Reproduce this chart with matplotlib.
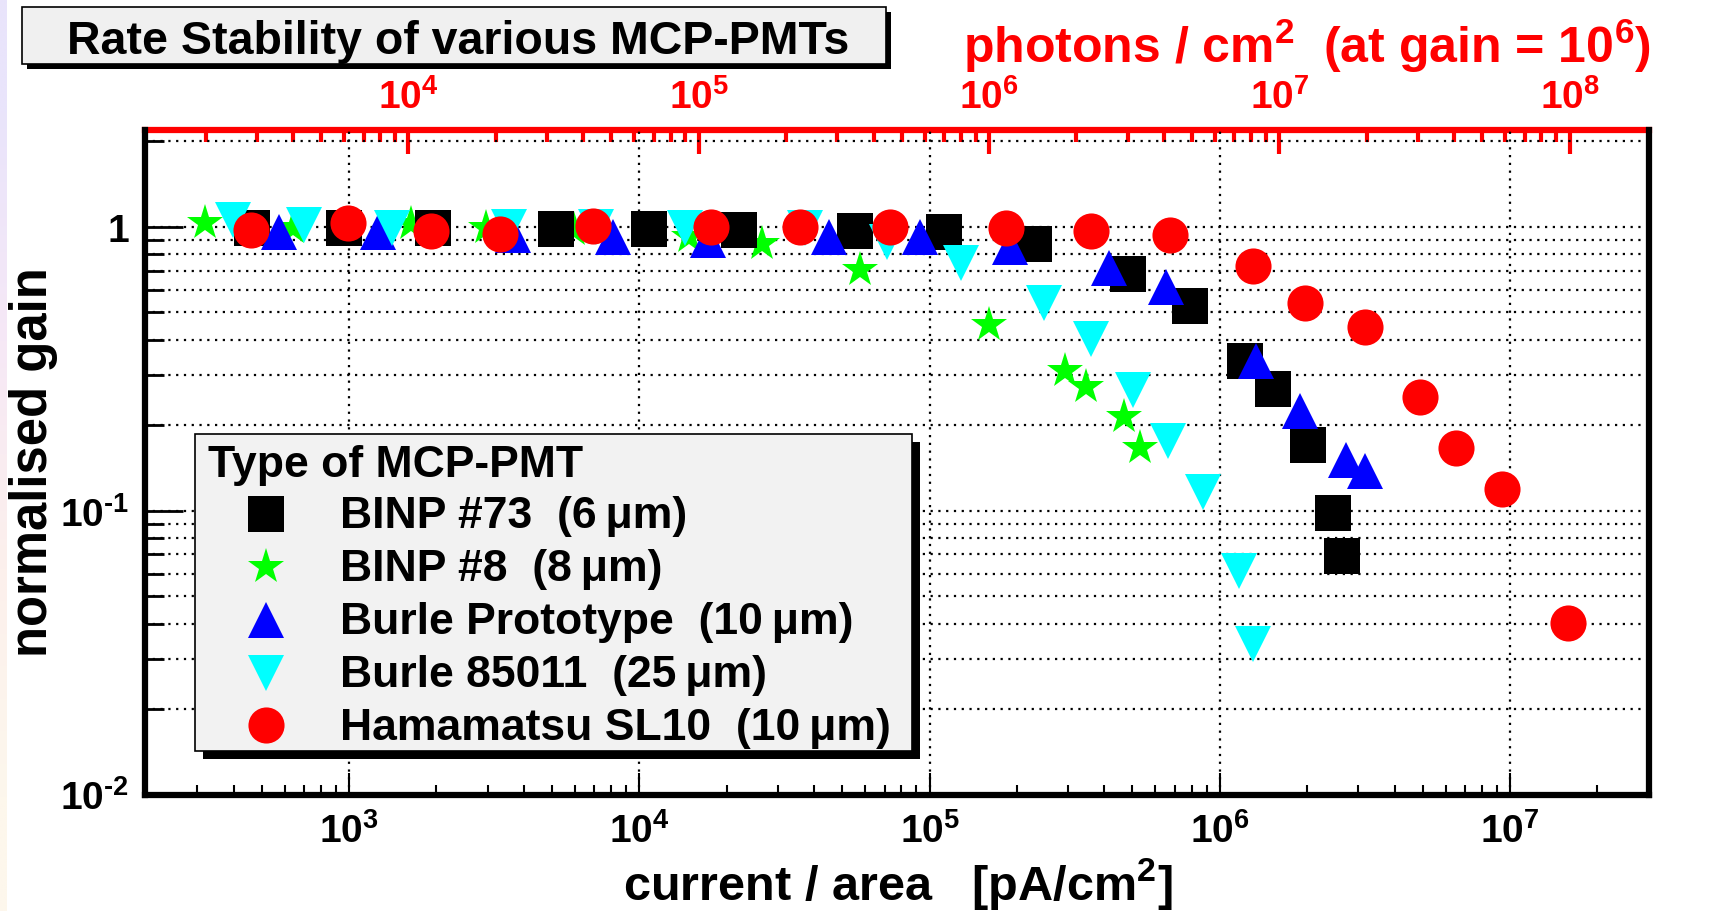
import matplotlib
matplotlib.use('Agg')
import matplotlib.pyplot as plt
import numpy as np
from matplotlib.patches import Rectangle
from matplotlib.lines import Line2D
from matplotlib.ticker import LogLocator, NullFormatter, FixedLocator

plt.rcParams['font.family'] = ['Liberation Sans', 'DejaVu Sans']
plt.rcParams['font.weight'] = 'bold'
plt.rcParams['mathtext.fontset'] = 'custom'
plt.rcParams['mathtext.rm'] = 'Liberation Sans:bold'
plt.rcParams['mathtext.it'] = 'Liberation Sans:bold'
plt.rcParams['mathtext.bf'] = 'Liberation Sans:bold'
plt.rcParams['mathtext.default'] = 'rm'

# current / area [pA/cm^2] and normalised gain
binp73_x = [462, 964, 1940, 5180, 10800, 22000, 55300, 112000, 229000, 484000,
            789000, 1.22e6, 1.53e6, 2.01e6, 2.45e6, 2.63e6]
binp73_y = [0.987, 0.99, 0.99, 0.981, 0.981, 0.973, 0.965, 0.96, 0.868, 0.681,
            0.523, 0.337, 0.267, 0.170, 0.098, 0.069]

binp8_x = [320, 640, 1640, 2970, 5970, 14800, 26500, 57800, 160000, 291700,
           345500, 466400, 532000]
binp8_y = [1.03, 0.99, 1.02, 0.99, 0.975, 0.92, 0.869, 0.704, 0.451, 0.309,
           0.273, 0.213, 0.166]

proto_x = [572, 1260, 3673, 8128, 17260, 45100, 92900, 190000, 415000, 653000,
           1.33e6, 1.89e6, 2.72e6, 3.16e6]
proto_y = [0.956, 0.957, 0.93, 0.915, 0.897, 0.917, 0.92, 0.846, 0.713, 0.610,
           0.337, 0.224, 0.151, 0.1376]

b85011_x = [398, 697, 1409, 3557, 7115, 14390, 37100, 71400, 128000, 248000,
            360600, 501000, 665000, 874000, 1.16e6, 1.30e6]
b85011_y = [1.05, 1.01, 0.99, 1.0, 1.0, 0.985, 0.99, 0.88, 0.741, 0.537,
            0.402, 0.266, 0.176, 0.116, 0.061, 0.034]

sl10_x = [458, 994, 1910, 3318, 6905, 17700, 35800, 72800, 182700, 360600,
          673000, 1.30e6, 1.96e6, 3.16e6, 4.91e6, 6.53e6, 9.4e6, 1.58e7]
sl10_y = [0.973, 1.03, 0.963, 0.941, 1.005, 1.0, 1.0, 1.0, 0.992, 0.968,
          0.935, 0.727, 0.540, 0.441, 0.25, 0.166, 0.119, 0.0401]

labels = ['BINP #73  (6\u2009\u03bcm)', 'BINP #8  (8\u2009\u03bcm)',
          'Burle Prototype  (10\u2009\u03bcm)', 'Burle 85011  (25\u2009\u03bcm)',
          'Hamamatsu SL10  (10\u2009\u03bcm)']

photons_per_pA = 6.24  # photons/cm^2 per pA/cm^2 at gain 1e6
top_major = [1e4, 1e5, 1e6, 1e7, 1e8]

W, H = 1726, 912
fig = plt.figure(figsize=(W / 100, H / 100), dpi=100)


def fx(px):
    return px / W


def fy(py):
    return 1 - py / H


ax = fig.add_axes([fx(144.5), fy(795.5), (1649 - 144.5) / W, (795.5 - 131) / H])
ax.set_xscale('log')
ax.set_yscale('log')
ax.set_xlim(197.4, 3.01e7)
ax.set_ylim(0.01, 2.187)

# markers: (x, y, marker, colour, size) -- draw order as in the original
series = [
    (binp8_x, binp8_y, '*', '#00ff00', 27.5),
    (binp73_x, binp73_y, 's', 'black', 26),
    (proto_x, proto_y, '^', '#0000ff', 26),
    (b85011_x, b85011_y, 'v', '#00ffff', 26),
    (sl10_x, sl10_y, 'o', '#ff0000', 26),
]
for x, y, m, c, s in series:
    ax.plot(x, y, ls='none', marker=m, color=c, ms=s, mew=0, zorder=3)

# axes ticks / grid
ax.xaxis.set_major_locator(LogLocator(base=10, numticks=20))
ax.xaxis.set_minor_locator(LogLocator(base=10, subs=np.arange(2, 10), numticks=20))
ax.xaxis.set_minor_formatter(NullFormatter())
ax.set_yticks([0.01, 0.1, 1], labels=[r'$10^{\text{-}2}$', r'$10^{\text{-}1}$', '1'])
ax.yaxis.set_minor_locator(LogLocator(base=10, subs=np.arange(2, 10), numticks=20))
ax.yaxis.set_minor_formatter(NullFormatter())

dots = (0, (1, 2.5))
ax.grid(True, axis='x', which='major', color='black', ls=dots, lw=1.6)
ax.grid(True, axis='y', which='both', color='black', ls=dots, lw=1.6)
ax.set_axisbelow(True)

ax.tick_params(axis='x', which='major', direction='in', length=15.8, width=1.5,
               top=False, labelsize=28, pad=13)
ax.tick_params(axis='x', which='minor', direction='in', length=7.2, width=1.5, top=False)
ax.tick_params(axis='y', which='major', direction='in', length=27, width=2,
               right=False, labelsize=28, pad=11)
ax.tick_params(axis='y', which='minor', direction='in', length=13.7, width=2, right=False)

for side in ['left', 'bottom', 'right']:
    ax.spines[side].set_linewidth(4.5)
    ax.spines[side].set_color('black')
ax.spines['top'].set_visible(False)

# top axis: photons / cm^2
sec = ax.secondary_xaxis('top', functions=(lambda v: v * photons_per_pA,
                                           lambda v: v / photons_per_pA))
top_minor = [m * d for d in [1e3, 1e4, 1e5, 1e6, 1e7, 1e8] for m in range(2, 10)
             if 197.4 * photons_per_pA < m * d < 3.01e7 * photons_per_pA]
sec.xaxis.set_major_locator(FixedLocator(top_major))
sec.xaxis.set_minor_locator(FixedLocator(top_minor))
sec.xaxis.set_minor_formatter(NullFormatter())
sec.tick_params(axis='x', which='major', direction='in', length=17, width=3,
                colors='red', labelsize=28, pad=10)
sec.tick_params(axis='x', which='minor', direction='in', length=8.6, width=3,
                colors='red')
sec.spines['top'].set_color('red')
sec.spines['top'].set_linewidth(4.5)

# axis titles
fig.text(fx(34), fy(462), 'normalised gain', rotation=90, ha='center', va='center',
         fontsize=36.5)
fig.text(fx(898), fy(900), 'current / area   [pA/cm$^{2}$]', ha='center',
         va='baseline', fontsize=35)
fig.text(fx(1651), fy(63), 'photons / cm$^{2}$  (at gain = 10$^{6}$)', ha='right',
         va='baseline', fontsize=36, color='red')

# title box with shadow
fig.add_artist(Rectangle((fx(27), fy(70)), (886 - 22) / W, (65 - 8) / H,
                         transform=fig.transFigure, facecolor='black', lw=0))
fig.add_artist(Rectangle((fx(22), fy(65)), (886 - 22) / W, (65 - 8) / H,
                         transform=fig.transFigure, facecolor='#f0f0f0',
                         edgecolor='black', lw=1.2))
fig.text(fx(458), fy(53.5), 'Rate Stability of various MCP-PMTs', ha='center',
         va='baseline', fontsize=33.5)

# legend box with shadow
lx0, lx1, ly0, ly1 = 195, 912, 435, 752
fig.add_artist(Rectangle((fx(lx0 + 8), fy(ly1 + 8)), (lx1 - lx0) / W, (ly1 - ly0) / H,
                         transform=fig.transFigure, facecolor='black', lw=0))
fig.add_artist(Rectangle((fx(lx0), fy(ly1)), (lx1 - lx0) / W, (ly1 - ly0) / H,
                         transform=fig.transFigure, facecolor='#f2f2f2',
                         edgecolor='black', lw=1.2))
fig.text(fx(208), fy(476.7), 'Type of MCP-PMT', ha='left', va='baseline', fontsize=32)
order = [1, 0, 2, 3, 4]
for i, lab in enumerate(labels):
    base = 528.3 + 52.9 * i
    _, _, m, c, s = series[order[i]]
    fig.add_artist(Line2D([fx(266)], [fy(base - 13.5)], transform=fig.transFigure,
                          ls='none', marker=m, color=c, ms=s, mew=0))
    fig.text(fx(340), fy(base), lab, ha='left', va='baseline', fontsize=32)

# faint slide background at the left edge
bg = fig.add_axes([0, 0, 7 / W, 1])
bg.imshow(np.array([[[233, 228, 251]], [[246, 232, 246]], [[252, 240, 236]],
                    [[253, 247, 236]]]) / 255.0, aspect='auto', interpolation='bilinear',
          extent=(0, 1, 0, 1))
bg.set_axis_off()

fig.savefig('out.png', dpi=100)
